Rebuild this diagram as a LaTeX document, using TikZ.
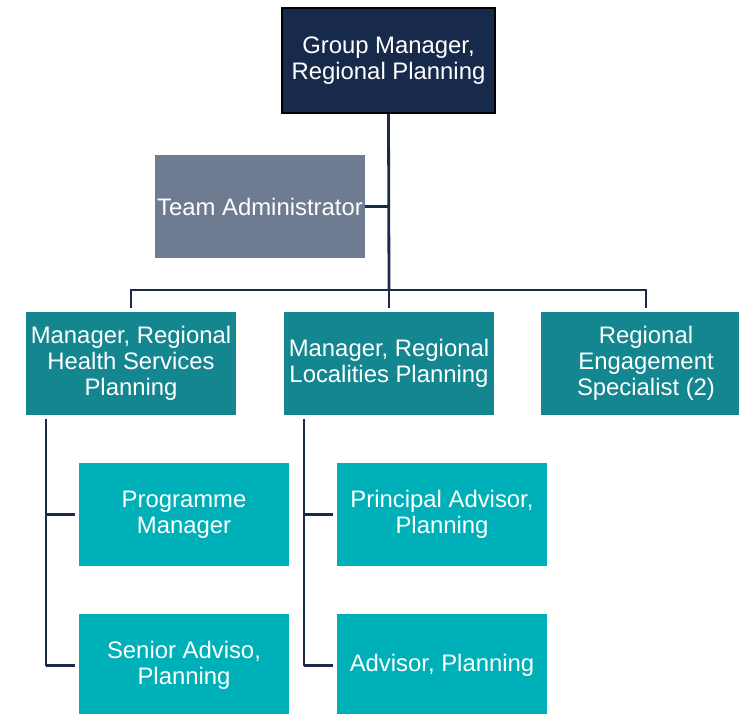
\documentclass[tikz,border=0pt]{standalone}
\usepackage{fontspec}
\setmainfont{Liberation Sans}
\definecolor{navybox}{HTML}{172A4B}
\definecolor{adminbox}{HTML}{6F7B91}
\definecolor{leadbox}{HTML}{138690}
\definecolor{staffbox}{HTML}{00B0B9}
\definecolor{linkline}{HTML}{1B2A47}
\tikzset{
    role/.style={text=white, minimum width=157.5pt, minimum height=77.25pt,
        inner sep=0pt, align=center, font=\fontsize{17.9}{19.3}\selectfont},
    head/.style={role, fill=navybox, draw=black, line width=1.5pt,
        minimum width=159.75pt, minimum height=78.75pt},
    admin/.style={role, fill=adminbox},
    lead/.style={role, fill=leadbox},
    staff/.style={role, fill=staffbox},
    link/.style={draw=linkline, line width=2.1pt}
}
\begin{document}
\begin{tikzpicture}[x=0.75pt, y=-0.75pt]
    \useasboundingbox (0,0) rectangle (739,714);
    \clip (0,0) rectangle (739,714);

    % the boxes
    \node[head] (gm) at (388.5,60.5) {Group Manager,\\Regional Planning};
    \node[admin] (ta) at (260,206.5) {Team Administrator};
    \node[lead] (hsp) at (131,363.5) {Manager, Regional\\Health Services\\Planning};
    \node[lead] (lp) at (389,363.5) {Manager, Regional\\Localities Planning};
    \node[lead] (res) at (646,363.5) {Regional\\Engagement\\Specialist (2)};
    \node[staff] (pm) at (184,514.5) {Programme\\Manager};
    \node[staff] (sa) at (184,665.5) {Senior Adviso,\\Planning};
    \node[staff] (pa) at (442,514.5) {Principal Advisor,\\Planning};
    \node[staff] (ap) at (442,665.5) {Advisor, Planning};

    % junction points
    \coordinate (bus) at (389,290);
    \coordinate (hspdrop) at (46,0);
    \coordinate (lpdrop) at (304,0);

    % the links
    \draw[link] (gm.south) -- (bus);
    \draw[link] (ta.east) -- (ta.east -| bus);
    \draw[link, line cap=rect] (hsp.north |- bus) -- (res.north |- bus);
    \draw[link, shorten >=2.5pt] (hsp.north |- bus) -- (hsp.north);
    \draw[link, shorten >=2.5pt] (lp.north |- bus) -- (lp.north);
    \draw[link, shorten >=2.5pt] (res.north |- bus) -- (res.north);

    \draw[link, shorten <=2.5pt] (hsp.south -| hspdrop) -- (sa.west -| hspdrop);
    \draw[link, shorten >=2.5pt] (pm.west -| hspdrop) -- (pm.west);
    \draw[link, shorten >=2.5pt] (sa.west -| hspdrop) -- (sa.west);

    \draw[link, shorten <=2.5pt] (lp.south -| lpdrop) -- (ap.west -| lpdrop);
    \draw[link, shorten >=2.5pt] (pa.west -| lpdrop) -- (pa.west);
    \draw[link, shorten >=2.5pt] (ap.west -| lpdrop) -- (ap.west);
\end{tikzpicture}
\end{document}
